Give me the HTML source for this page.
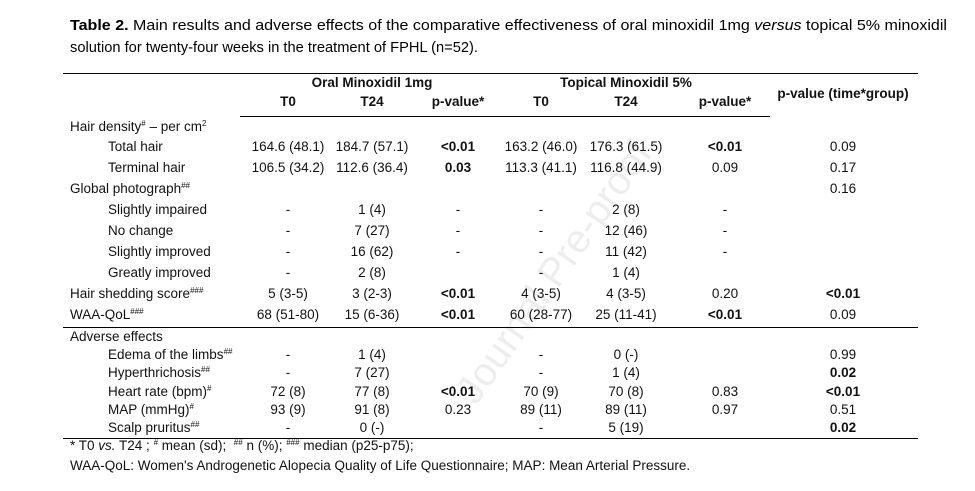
<!DOCTYPE html>
<html><head><meta charset="utf-8">
<style>
body{margin:0;width:975px;height:491px;background:#fff;position:relative;overflow:hidden;font-family:"Liberation Sans",Arial,sans-serif;color:#111;}
.t{position:absolute;font-size:13.5px;white-space:nowrap;line-height:16px;}
.c{transform:translateX(-50%);}
.b{font-weight:bold;}
.hr{position:absolute;height:1.3px;background:#000;}
sup{font-size:8px;vertical-align:5px;line-height:0;}
#wm{position:absolute;left:400px;top:250px;font-size:40px;color:rgba(0,0,0,0.07);transform:rotate(-55deg);white-space:nowrap;}
</style></head><body>
<svg width="975" height="60" style="position:absolute;left:0;top:0">
<text x="70" y="30" font-family="Liberation Sans, sans-serif" font-size="15" textLength="877" lengthAdjust="spacingAndGlyphs"><tspan font-weight="bold">Table 2.</tspan> Main results and adverse effects of the comparative effectiveness of oral minoxidil 1mg <tspan font-style="italic">versus</tspan> topical 5% minoxidil</text>
<text x="70" y="52" font-family="Liberation Sans, sans-serif" font-size="15" textLength="408" lengthAdjust="spacingAndGlyphs">solution for twenty-four weeks in the treatment of FPHL (n=52).</text>
</svg>
<div id="wm">Journal Pre-proof</div>
<div class="hr" style="left:63px;width:855px;top:73px"></div>
<div class="hr" style="left:240px;width:530px;top:116px"></div>
<div class="hr" style="left:63px;width:855px;top:327px"></div>
<div class="hr" style="left:63px;width:855px;top:438px"></div>
<div id="tbl"></div>
<script>
const cols=[288,372,458,541,626,725,843];
const rows=[
[127,70,'Hair density<sup>#</sup> – per cm<sup>2</sup>',[]],
[147,108,'Total hair',['164.6 (48.1)','184.7 (57.1)','*<0.01','163.2 (46.0)','176.3 (61.5)','*<0.01','0.09']],
[168,108,'Terminal hair',['106.5 (34.2)','112.6 (36.4)','*0.03','113.3 (41.1)','116.8 (44.9)','0.09','0.17']],
[189,70,'Global photograph<sup>##</sup>',['','','','','','','0.16']],
[210,108,'Slightly impaired',['-','1 (4)','-','-','2 (8)','-','']],
[231,108,'No change',['-','7 (27)','-','-','12 (46)','-','']],
[252,108,'Slightly improved',['-','16 (62)','-','-','11 (42)','-','']],
[273,108,'Greatly improved',['-','2 (8)','','-','1 (4)','','']],
[294,70,'Hair shedding score<sup>###</sup>',['5 (3-5)','3 (2-3)','*<0.01','4 (3-5)','4 (3-5)','0.20','*<0.01']],
[315,70,'WAA-QoL<sup>###</sup>',['68 (51-80)','15 (6-36)','*<0.01','60 (28-77)','25 (11-41)','*<0.01','0.09']],
[337,70,'Adverse effects',[]],
[355,108,'Edema of the limbs<sup>##</sup>',['-','1 (4)','','-','0 (-)','','0.99']],
[373,108,'Hyperthrichosis<sup>##</sup>',['-','7 (27)','','-','1 (4)','','*0.02']],
[392,108,'Heart rate (bpm)<sup>#</sup>',['72 (8)','77 (8)','*<0.01','70 (9)','70 (8)','0.83','*<0.01']],
[410,108,'MAP (mmHg)<sup>#</sup>',['93 (9)','91 (8)','0.23','89 (11)','89 (11)','0.97','0.51']],
[428,108,'Scalp pruritus<sup>##</sup>',['-','0 (-)','','-','5 (19)','','*0.02']]
];
const tbl=document.getElementById('tbl');
function add(x,y,html,cls,name){
  const d=document.createElement('div');
  d.className='t '+cls;d.style.left=x+'px';d.style.top=(y-8)+'px';d.innerHTML=html;
  
  
  tbl.appendChild(d);
}
add(372,83,'Oral Minoxidil 1mg','c b','group-header-oral');
add(626,83,'Topical Minoxidil 5%','c b','group-header-topical');
const hdr=['T0','T24','p-value*','T0','T24','p-value*'];
hdr.forEach((h,i)=>add(cols[i],102,h,'c b','column-header'));
add(843,94,'p-value (time*group)','c b','column-header-interaction');
rows.forEach(r=>{
  add(r[1],r[0],r[2],'','row-label');
  r[3].forEach((v,i)=>{ if(!v) return; const bold=v[0]=='*'; add(cols[i],r[0],bold?v.slice(1).replace('<','&lt;'):v,'c'+(bold?' b':''),'cell-value');});
});
add(70,446,'* T0 <i>vs.</i> T24 ; <sup>#</sup> mean (sd);&nbsp; <sup>##</sup> n (%); <sup>###</sup> median (p25-p75);','','footnote-symbols');
add(70,466,"WAA-QoL: Women's Androgenetic Alopecia Quality of Life Questionnaire; MAP: Mean Arterial Pressure.",'','footnote-abbreviations');
</script>
</body></html>
